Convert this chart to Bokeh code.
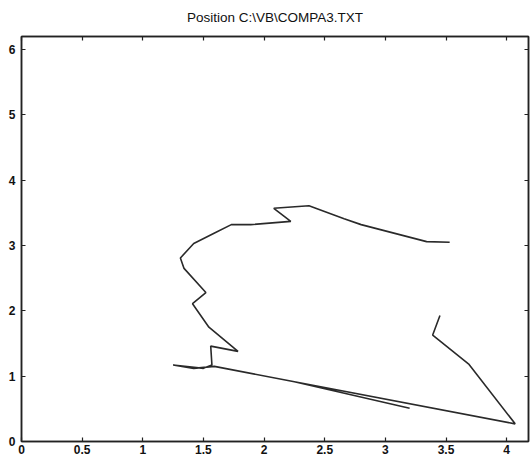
from bokeh.plotting import figure
from bokeh.models import Range1d, LinearAxis, FixedTicker, ColumnDataSource
from bokeh.embed import file_html
from bokeh.resources import INLINE

# Path
pos_x = [3.53, 3.34, 2.80, 2.66, 2.37, 2.08, 2.22, 1.89, 1.73, 1.60, 1.42, 1.31,
         1.34, 1.52, 1.41, 1.545, 1.785, 1.56, 1.57, 1.50, 1.25, 1.42, 1.59,
         2.25, 3.20, 2.25, 4.07, 3.69, 3.39, 3.45]
pos_y = [3.05, 3.06, 3.32, 3.41, 3.61, 3.57, 3.37, 3.32, 3.32, 3.20, 3.03, 2.81,
         2.65, 2.28, 2.11, 1.75, 1.38, 1.46, 1.17, 1.12, 1.17, 1.12, 1.15,
         0.915, 0.51, 0.915, 0.27, 1.18, 1.63, 1.93]

x_ticks = [0, 0.5, 1, 1.5, 2, 2.5, 3, 3.5, 4]
x_tick_labels = ["0", "0.5", "1", "1.5", "2", "2.5", "3", "3.5", "4"]
y_ticks = [0, 1, 2, 3, 4, 5, 6]
y_tick_labels = ["0", "1", "2", "3", "4", "5", "6"]
title_text = "Position C:\\VB\\COMPA3.TXT"

p = figure(width=530, height=459, output_backend="svg", toolbar_location=None,
           x_range=Range1d(0, 4.18), y_range=Range1d(0, 6.2),
           title=title_text, x_axis_location=None, y_axis_location=None,
           min_border_left=21, min_border_right=2, min_border_top=35,
           min_border_bottom=18)
p.background_fill_color = "white"
p.border_fill_color = "white"
p.outline_line_color = "#222222"
p.outline_line_width = 1.5
p.xgrid.visible = False
p.ygrid.visible = False

p.title.text_font = "Liberation Sans"
p.title.text_font_size = "13.5px"
p.title.text_font_style = "normal"
p.title.align = "center"
p.title.text_color = "#111111"
p.title.standoff = 19
p.title.vertical_align = "top"

def style_axis(ax, ticks, labels, show_labels):
    ax.ticker = FixedTicker(ticks=ticks)
    ax.major_label_overrides = {t: l for t, l in zip(ticks, labels)}
    ax.major_tick_in = 4
    ax.major_tick_out = 0
    ax.minor_tick_line_color = None
    ax.axis_line_color = "#222222"
    ax.axis_line_width = 1.5
    ax.major_tick_line_color = "#222222"
    ax.major_tick_line_width = 1.2
    ax.major_label_text_font = "Liberation Sans"
    ax.major_label_text_font_size = "12px"
    ax.major_label_text_font_style = "bold"
    ax.major_label_text_color = "#111111"
    ax.major_label_standoff = 3
    if not show_labels:
        ax.major_label_text_font_size = "0px"
        ax.major_label_text_color = None

bottom = LinearAxis()
style_axis(bottom, x_ticks, x_tick_labels, True)
p.add_layout(bottom, "below")
top = LinearAxis()
style_axis(top, x_ticks, x_tick_labels, False)
p.add_layout(top, "above")
left = LinearAxis()
style_axis(left, y_ticks, y_tick_labels, True)
left.major_label_standoff = 6
p.add_layout(left, "left")
right = LinearAxis()
style_axis(right, y_ticks, y_tick_labels, False)
p.add_layout(right, "right")

src = ColumnDataSource(data=dict(x=pos_x, y=pos_y))
p.line("x", "y", source=src, line_color="#2a2a2a", line_width=1.6)

open("out.html", "w").write(file_html(p, INLINE))
